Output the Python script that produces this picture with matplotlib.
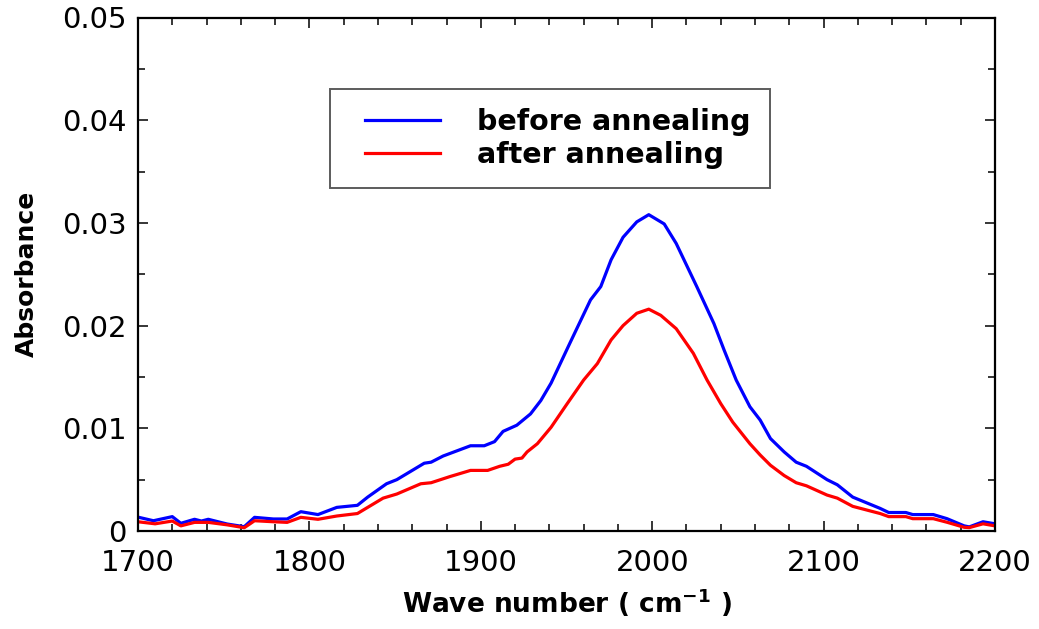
import numpy as np
import matplotlib
matplotlib.use('Agg')
import matplotlib.pyplot as plt
from matplotlib.legend_handler import HandlerLine2D
from matplotlib.ticker import MultipleLocator

# wave number (cm-1) / absorbance
wn_before = [1700, 1709, 1720, 1725, 1733, 1737, 1741, 1752, 1762, 1768, 1779, 1787,
             1795, 1805, 1816, 1828, 1834, 1845, 1851, 1867, 1871, 1878, 1886, 1894,
             1902, 1908, 1913, 1921, 1929, 1935, 1941, 1952, 1964, 1970, 1976, 1983,
             1991, 1998, 2007, 2014, 2026, 2036, 2042, 2049, 2057, 2063, 2069, 2077,
             2084, 2090, 2102, 2108, 2117, 2133, 2138, 2148, 2152, 2164, 2172, 2182,
             2185, 2193, 2200]
abs_before = [0.00135, 0.0010, 0.0014, 0.00075, 0.00114, 0.00097, 0.00114, 0.00068,
              0.00042, 0.00133, 0.00117, 0.00117, 0.00188, 0.0016, 0.0023, 0.0025,
              0.0033, 0.0046, 0.0050, 0.0066, 0.0067, 0.0073, 0.0078, 0.0083, 0.0083,
              0.0087, 0.0097, 0.0103, 0.0114, 0.0127, 0.0144, 0.0183, 0.0225, 0.0238,
              0.0264, 0.0286, 0.0301, 0.0308, 0.0299, 0.0280, 0.0238, 0.0202, 0.0176,
              0.0147, 0.0121, 0.0108, 0.0090, 0.0077, 0.0067, 0.0063, 0.0050, 0.0045,
              0.0033, 0.0022, 0.0018, 0.0018, 0.0016, 0.0016, 0.0012, 0.0005, 0.0004,
              0.0009, 0.0007]

wn_after = [1700, 1710, 1720, 1725, 1733, 1741, 1752, 1762, 1768, 1779, 1787, 1795,
            1805, 1816, 1828, 1843, 1851, 1865, 1871, 1882, 1894, 1904, 1911, 1916,
            1920, 1924, 1927, 1933, 1941, 1950, 1960, 1968, 1976, 1983, 1991, 1998,
            2005, 2014, 2024, 2032, 2040, 2047, 2057, 2063, 2069, 2077, 2084, 2090,
            2102, 2108, 2117, 2133, 2138, 2148, 2152, 2164, 2172, 2182, 2185, 2193,
            2200]
abs_after = [0.0009, 0.0007, 0.00097, 0.0005, 0.00084, 0.00084, 0.0006, 0.00032,
             0.0010, 0.0009, 0.00084, 0.00133, 0.00114, 0.00146, 0.0017, 0.0032,
             0.0036, 0.0046, 0.0047, 0.0053, 0.0059, 0.0059, 0.0063, 0.0065, 0.0070,
             0.0071, 0.0077, 0.0085, 0.0101, 0.0123, 0.0147, 0.0163, 0.0186, 0.0200,
             0.0212, 0.0216, 0.0210, 0.0197, 0.0173, 0.0147, 0.0124, 0.0106, 0.0085,
             0.0074, 0.0064, 0.0054, 0.0047, 0.0044, 0.0035, 0.0032, 0.0024, 0.0017,
             0.0014, 0.0014, 0.0012, 0.0012, 0.00085, 0.00036, 0.00033, 0.0007, 0.0005]

fig = plt.figure(figsize=(10.39, 6.29), dpi=100)
ax = fig.add_axes([138/1039, (629-531)/629, (995-138)/1039, (531-17.5)/629])

ax.plot(wn_before, abs_before, color='#0000ff', lw=2.3, label='before annealing')
ax.plot(wn_after, abs_after, color='#ff0000', lw=2.3, label='after annealing')

ax.set_xlim(1700, 2200)
ax.set_ylim(0, 0.05)
ax.xaxis.set_major_locator(MultipleLocator(100))
ax.xaxis.set_minor_locator(MultipleLocator(20))
ax.yaxis.set_minor_locator(MultipleLocator(0.005))
ax.set_yticks([0, 0.01, 0.02, 0.03, 0.04, 0.05])
ax.set_yticklabels(['0', '0.01', '0.02', '0.03', '0.04', '0.05'])

ax.tick_params(which='both', direction='in', top=True, right=True, width=1.1, labelsize=21)
ax.tick_params(which='major', length=7.5)
ax.tick_params(which='minor', length=4.8)
ax.tick_params(axis='x', pad=13)
ax.tick_params(axis='y', pad=8)
for s in ax.spines.values():
    s.set_linewidth(1.6)

ax.set_xlabel(r'Wave number ( cm$^{\mathbf{-1}}$ )', fontsize=19, fontweight='bold')
ax.set_ylabel('Absorbance', fontsize=18, fontweight='bold')
ax.xaxis.set_label_coords(0.5, -0.108)
ax.yaxis.set_label_coords(-0.116, 0.5)

leg = ax.legend(loc='upper left', bbox_to_anchor=(0.224, 0.861), borderaxespad=0,
                prop={'size': 20.5, 'weight': 'bold'}, frameon=True, fancybox=False,
                borderpad=0.68, handlelength=3.75, handletextpad=0.75, labelspacing=0.15,
                handler_map={matplotlib.lines.Line2D: HandlerLine2D(marker_pad=0.55, numpoints=2)})
leg.get_frame().set_edgecolor('#333333')
leg.get_frame().set_linewidth(1.4)
for ln in leg.get_lines():
    ln.set_linewidth(2.3)

fig.savefig('out.png', dpi=100)
